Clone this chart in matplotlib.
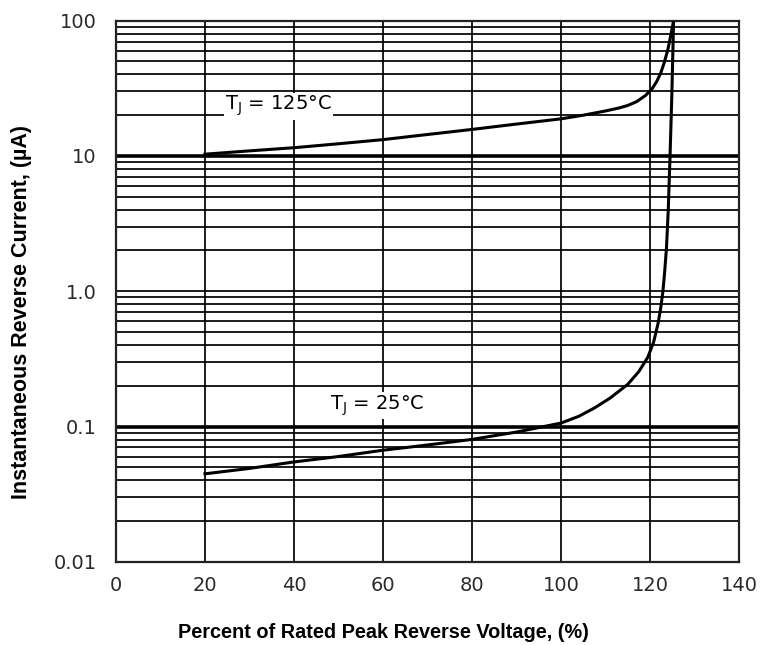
import matplotlib
matplotlib.use("Agg")
import matplotlib.pyplot as plt
import numpy as np
from matplotlib.ticker import FixedLocator, LogLocator, NullFormatter

# Readings (percent of rated voltage, current in uA)
v_125 = [20, 30, 40, 50, 60, 70, 80, 90, 100, 105, 110, 113, 115, 117, 119, 120.5, 121.5, 122.4, 123.2, 124.0, 124.6, 125.3]
i_125 = [10.3, 10.9, 11.5, 12.3, 13.2, 14.4, 15.7, 17.2, 18.8, 20.0, 21.5, 22.6, 23.6, 25.2, 28.0, 31.5, 35.5, 41, 49, 61, 76, 100]

v_25 = [20, 30, 40, 50, 60, 70, 80, 90, 100, 104, 107.5, 111, 115, 117.5, 119.5, 120.8, 121.8, 122.4, 122.9, 123.3, 123.7, 124.1, 124.5, 124.9, 125.3]
i_25 = [0.0447, 0.049, 0.0547, 0.060, 0.0668, 0.073, 0.0803, 0.091, 0.106, 0.119, 0.137, 0.162, 0.205, 0.255, 0.325, 0.42, 0.576, 0.75, 1.0, 1.4, 2.1, 4.0, 10, 28, 100]

x_ticks = [0, 20, 40, 60, 80, 100, 120, 140]
y_ticks = [0.01, 0.1, 1.0, 10, 100]
y_labels = ["0.01", "0.1", "1.0", "10", "100"]

plt.rcParams["mathtext.default"] = "regular"

fig = plt.figure(figsize=(7.6, 6.45), dpi=100)
ax = fig.add_axes([0.1526, 0.129, 0.8198, 0.839])

ax.set_yscale("log")
ax.set_xlim(0, 140)
ax.set_ylim(0.01, 100)

# grid: verticals every 20, log minor horizontals, heavier decade lines
ax.xaxis.set_major_locator(FixedLocator(x_ticks))
ax.yaxis.set_major_locator(FixedLocator(y_ticks))
ax.yaxis.set_minor_locator(LogLocator(base=10, subs=np.arange(2, 10)))
ax.yaxis.set_minor_formatter(NullFormatter())
ax.set_xticklabels([str(t) for t in x_ticks])
ax.set_yticklabels(y_labels)

ax.grid(True, which="major", axis="x", color="black", lw=1.25)
ax.grid(True, which="minor", axis="y", color="black", lw=1.25)
ax.grid(True, which="major", axis="y", color="black", lw=1.25)
for yy in [0.1, 10]:
    ax.axhline(yy, color="black", lw=2.6, zorder=1)
ax.set_axisbelow(True)

ax.tick_params(which="both", length=0)
ax.tick_params(axis="y", pad=14, labelsize=14, labelcolor="#2a2a2a")
ax.tick_params(axis="x", pad=10, labelsize=14, labelcolor="#2a2a2a")
for s in ax.spines.values():
    s.set_linewidth(1.6)
    s.set_color("#222222")

ax.plot(v_125, i_125, color="black", lw=2.2, zorder=3)
ax.plot(v_25, i_25, color="black", lw=2.2, zorder=3)

ax.text(24.5, 23.3, "T$_J$ = 125°C", fontsize=14, ha="left", va="center",
        bbox=dict(facecolor="white", edgecolor="none", pad=1), zorder=2)
ax.text(58.7, 0.143, "T$_J$ = 25°C", fontsize=14, ha="center", va="center",
        bbox=dict(facecolor="white", edgecolor="none", pad=1), zorder=2)

fig.text(383 / 760, 1 - 632 / 645, "Percent of Rated Peak Reverse Voltage, (%)",
         ha="center", va="center", fontsize=14.3, fontweight="bold", family="Liberation Sans")
fig.text(22 / 760, 1 - 312 / 645, "Instantaneous Reverse Current, (µA)", rotation=90,
         ha="center", va="center", fontsize=15.5, fontweight="bold", family="Liberation Sans")

fig.savefig("out.png", dpi=100)
